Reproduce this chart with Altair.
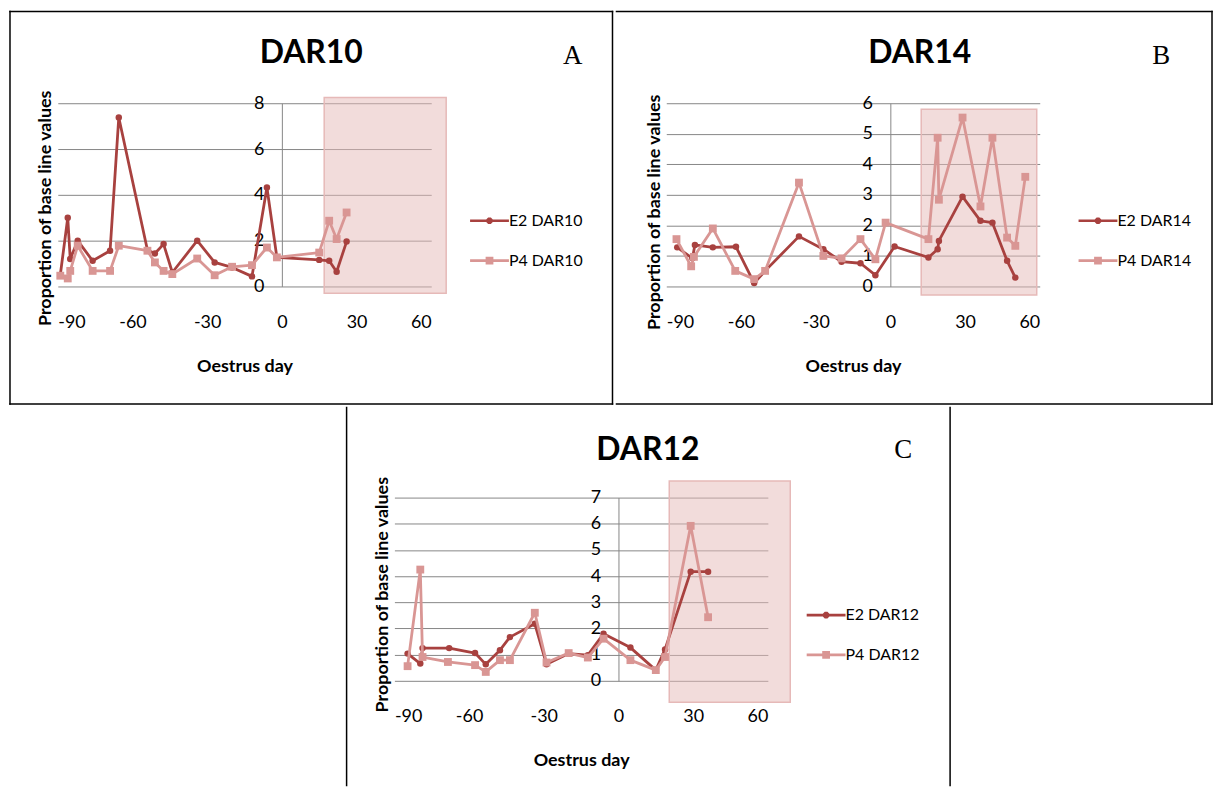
import altair as alt
import pandas as pd

# ---------------- data ----------------
x_ticks = [-90, -60, -30, 0, 30, 60]

# Panel A : DAR10
a_name = "DAR10"
a_letter = "A"
a_e2_days = [-89, -86, -85, -82, -76, -69, -65.5, -54, -51, -47.5, -44, -34, -27, -20, -12, -6, -2, 15, 19, 22, 26]
a_e2_vals = [0.5, 3.0, 1.2, 2.0, 1.12, 1.56, 7.38, 1.59, 1.44, 1.85, 0.61, 2.0, 1.05, 0.83, 0.44, 4.32, 1.27, 1.16, 1.12, 0.64, 1.96]
a_p4_days = [-89, -86, -85, -82, -76, -69, -65.5, -54, -51, -47.5, -44, -34, -27, -20, -12, -6, -2, 15, 19, 22, 26]
a_p4_vals = [0.47, 0.35, 0.68, 1.78, 0.68, 0.68, 1.78, 1.56, 1.05, 0.68, 0.54, 1.22, 0.49, 0.86, 0.93, 1.70, 1.27, 1.48, 2.87, 2.07, 3.23]
a_y_ticks = [0, 2, 4, 6, 8]
a_shade_days = [17, 66]
a_shade_vals = [-0.3, 8.25]

# Panel B : DAR14
b_name = "DAR14"
b_letter = "B"
b_e2_days = [-85.6, -79.5, -78.5, -71.3, -62, -54.7, -50.3, -36.7, -26.9, -19.6, -12, -6, 1.7, 15.3, 19, 19.5, 29, 36.2, 41, 46.9, 50.2]
b_e2_vals = [1.28, 0.92, 1.36, 1.28, 1.30, 0.11, 0.51, 1.64, 1.22, 0.81, 0.76, 0.37, 1.31, 0.95, 1.22, 1.49, 2.94, 2.15, 2.09, 0.84, 0.29]
b_p4_days = [-85.9, -80, -78.9, -71.3, -62.3, -54.7, -50.3, -36.7, -26.9, -19.6, -12, -6, -1.9, 15.3, 19, 19.5, 29, 36.2, 41, 46.9, 50.2, 54.2]
b_p4_vals = [1.55, 0.66, 0.97, 1.9, 0.51, 0.24, 0.51, 3.4, 1.0, 0.92, 1.55, 0.89, 2.09, 1.55, 4.87, 2.84, 5.53, 2.62, 4.87, 1.6, 1.33, 3.59]
b_y_ticks = [0, 1, 2, 3, 4, 5, 6]
b_shade_days = [12.4, 58.8]
b_shade_vals = [-0.28, 5.8]

# Panel C : DAR12
c_name = "DAR12"
c_letter = "C"
c_e2_days = [-84.7, -79.6, -78.7, -68, -57.6, -53.3, -47.6, -43.6, -33.6, -28.9, -20, -12.3, -6, 4.8, 15, 18.7, 29, 36]
c_e2_vals = [1.04, 0.66, 1.25, 1.25, 1.06, 0.63, 1.17, 1.67, 2.18, 0.63, 1.04, 0.98, 1.8, 1.27, 0.41, 1.2, 4.17, 4.17]
c_p4_days = [-84.7, -79.6, -78.7, -68.5, -57.6, -53.3, -47.6, -43.6, -33.6, -28.9, -20, -12.3, -6, 4.8, 15, 18.7, 29, 36]
c_p4_vals = [0.56, 4.25, 0.91, 0.72, 0.6, 0.34, 0.79, 0.79, 2.6, 0.7, 1.06, 0.89, 1.61, 0.79, 0.41, 0.91, 5.92, 2.43]
c_y_ticks = [0, 1, 2, 3, 4, 5, 6, 7]
c_shade_days = [20.4, 69]
c_shade_vals = [-0.82, 7.63]

# ---------------- styling ----------------
E2_COLOR = "#A8413F"
P4_COLOR = "#D99694"
SHADE_FILL = "#E6B9B8"
SHADE_EDGE = "#E6B9B8"
GRID = "#868686"
FONT = "Lato"
FRAME_W = 1.5

W, H = 375, 184
X_DOMAIN = [-90, 60]
X_ZERO_PX = W * (0 - X_DOMAIN[0]) / (X_DOMAIN[1] - X_DOMAIN[0])

# legend symbol: line segment with a marker in the middle (unit coords)
PATH_E2 = ("M-1,-0.07H1V0.07H-1Z "
           "M-0.07,-0.17L0.07,-0.17L0.17,-0.07L0.17,0.07L0.07,0.17L-0.07,0.17L-0.17,0.07L-0.17,-0.07Z")
PATH_P4 = "M-1,-0.07H1V0.07H-1Z M-0.2,-0.2H0.2V0.2H-0.2Z"

ONE = pd.DataFrame({"k": [0]})


def hrule(x1, x2, y):
    return alt.Chart(ONE).mark_rule(color="black", strokeWidth=FRAME_W, strokeCap="square").encode(
        x=alt.value(x1), x2=alt.value(x2), y=alt.value(y))


def vrule(x, y1, y2):
    return alt.Chart(ONE).mark_rule(color="black", strokeWidth=FRAME_W, strokeCap="square").encode(
        x=alt.value(x), y=alt.value(y1), y2=alt.value(y2))


def panel(name, letter, e2d, e2v, p4d, p4v, yticks, shade_d, shade_v,
          ytitle_y, frame_rules, letter_pos, title_pos):
    xs = alt.Scale(domain=X_DOMAIN, nice=False, zero=False)
    ys = alt.Scale(domain=[0, yticks[-1]], nice=False, zero=False)
    xaxis = alt.Axis(values=x_ticks, title="Oestrus day", grid=False, domain=False,
                     ticks=False, tickSize=0, labelPadding=27,
                     labelExpr="datum.value + ''",
                     titleX=W / 2, titleY=80, titleAlign="center", titleBaseline="middle")
    yaxis = alt.Axis(values=yticks, title="Proportion of base line values",
                     offset=-X_ZERO_PX, grid=True, domain=True, ticks=False, tickSize=0,
                     labelPadding=18, titleX=-237, titleY=ytitle_y, titleAngle=270,
                     titleAlign="center", titleBaseline="middle")

    shade_df = pd.DataFrame({"d0": [shade_d[0]], "d1": [shade_d[1]],
                             "v0": [shade_v[0]], "v1": [shade_v[1]]})
    shade = alt.Chart(shade_df).mark_rect(
        fill=SHADE_FILL, fillOpacity=0.5, stroke=SHADE_EDGE, strokeWidth=1.5, strokeOpacity=1
    ).encode(
        x=alt.X("d0:Q", scale=xs, axis=xaxis), x2="d1:Q",
        y=alt.Y("v1:Q", scale=ys, axis=yaxis), y2="v0:Q",
    )

    e2_df = pd.DataFrame({"day": e2d, "value": e2v})
    p4_df = pd.DataFrame({"day": p4d, "value": p4v})
    enc = dict(x=alt.X("day:Q", scale=xs, axis=xaxis), y=alt.Y("value:Q", scale=ys, axis=yaxis))

    e2_line = alt.Chart(e2_df).mark_line(color=E2_COLOR, strokeWidth=2.8, strokeJoin="round").encode(**enc)
    e2_pts = alt.Chart(e2_df).mark_point(filled=True, shape="circle", size=42, color=E2_COLOR, opacity=1).encode(**enc)
    p4_line = alt.Chart(p4_df).mark_line(color=P4_COLOR, strokeWidth=2.8, strokeJoin="round").encode(**enc)
    p4_pts = alt.Chart(p4_df).mark_point(filled=True, shape="square", size=62, color=P4_COLOR, opacity=1).encode(**enc)

    series = [f"E2 {name}", f"P4 {name}"]
    leg_df = pd.DataFrame({"series": series})
    leg = alt.Legend(orient="none", legendX=414, legendY=98.5, padding=0, rowPadding=12,
                     symbolSize=1521, symbolStrokeWidth=0, symbolOpacity=1,
                     labelFont=FONT, labelFontSize=16, labelColor="black", labelOffset=0,
                     labelLimit=300)
    legend_layer = alt.Chart(leg_df).mark_point(filled=True, opacity=0).encode(
        color=alt.Color("series:N", title=None,
                        scale=alt.Scale(domain=series, range=[E2_COLOR, P4_COLOR]), legend=leg),
        shape=alt.Shape("series:N", title=None,
                        scale=alt.Scale(domain=series, range=[PATH_E2, PATH_P4]), legend=leg),
    )

    one = pd.DataFrame({"t": [name], "l": [letter]})
    title = alt.Chart(one).mark_text(font=FONT, fontSize=32, fontWeight="bold", color="black",
                                     align="center", baseline="middle").encode(
        text="t:N", x=alt.value(title_pos[0]), y=alt.value(title_pos[1]))
    letter_txt = alt.Chart(one).mark_text(font="Liberation Serif", fontSize=27, color="black",
                                          align="center", baseline="middle").encode(
        text="l:N", x=alt.value(letter_pos[0]), y=alt.value(letter_pos[1]))

    layers = [shade, e2_line, e2_pts, p4_line, p4_pts, legend_layer, title, letter_txt] + frame_rules
    return alt.layer(*layers).properties(width=W, height=H)


pa = panel(a_name, a_letter, a_e2_days, a_e2_vals, a_p4_days, a_p4_vals, a_y_ticks,
           a_shade_days, a_shade_vals, ytitle_y=105,
           frame_rules=[hrule(-48, 557, -92), hrule(-48, 557, 302), vrule(-48, -92, 302), vrule(557, -92, 302)],
           letter_pos=(517, -47), title_pos=(254.5, -50))
pb = panel(b_name, b_letter, b_e2_days, b_e2_vals, b_p4_days, b_p4_vals, b_y_ticks,
           b_shade_days, b_shade_vals, ytitle_y=109,
           frame_rules=[hrule(-50, 548, -92), hrule(-50, 548, 302), vrule(548, -92, 302)],
           letter_pos=(497, -47), title_pos=(254.5, -50))
pc = panel(c_name, c_letter, c_e2_days, c_e2_vals, c_p4_days, c_p4_vals, c_y_ticks,
           c_shade_days, c_shade_vals, ytitle_y=97,
           frame_rules=[vrule(-48, -90.5, 289), vrule(558, -90.5, 289)],
           letter_pos=(511, -48), title_pos=(254.5, -48))

# empty spacer so that panel C sits under the two top panels where the figure has it
spacer = alt.Chart(ONE).mark_point(opacity=0).properties(width=287.5, height=10)

top = alt.hconcat(pa, pb, spacing=0).resolve_scale(color="independent", shape="independent")
bottom = alt.hconcat(spacer, pc, spacing=0).resolve_scale(color="independent", shape="independent")
chart = alt.vconcat(top, bottom, spacing=0).resolve_scale(
    color="independent", shape="independent"
).properties(padding=0, background="white").configure_view(strokeWidth=0).configure_axis(
    labelFont=FONT, labelFontSize=18, labelColor="black",
    titleFont=FONT, titleFontSize=18, titleFontWeight="bold", titleColor="black",
    gridColor=GRID, gridWidth=1, gridOpacity=1, domainColor=GRID, domainWidth=1,
)

chart.save("out.html", embed_options={"renderer": "svg", "actions": False})
